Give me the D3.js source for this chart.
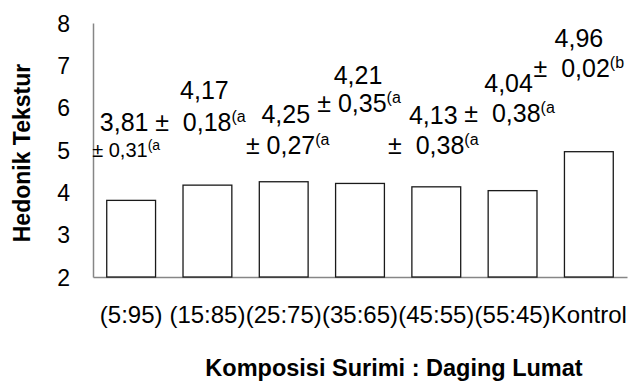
<!DOCTYPE html>
<html>
<head>
<meta charset="utf-8">
<script src="https://cdn.jsdelivr.net/npm/d3@7"></script>
<style>
	body { margin: 0; background: #fff; }
	svg text { font-family: "Liberation Sans", Arial, sans-serif; fill: #000; white-space: pre; }
</style>
</head>
<body>
<div id="chart"></div>
<script>
// chart values
const categories = ["(5:95)", "(15:85)", "(25:75)", "(35:65)", "(45:55)", "(55:45)", "Kontrol"];
const means = [3.81, 4.17, 4.25, 4.21, 4.13, 4.04, 4.96];
const meanLabels = ["3,81", "4,17", "4,25", "4,21", "4,13", "4,04", "4,96"];
const sdLabels = ["± 0,31", "±  0,18", "± 0,27", "± 0,35", "±  0,38", "±  0,38", "±  0,02"];
const letters = ["(a", "(a", "(a", "(a", "(a", "(a", "(b"];
const yTicks = [2, 3, 4, 5, 6, 7, 8];

// label placement (px, relative to bar centre / bar top), moved by hand like the original
const labelLayout = [
	{dx1: -7, dy1: -78, dx2: -5, dy2: -50, small: true},
	{dx1: -3, dy1: -95, dx2: -7, dy2: -63},
	{dx1: 2, dy1: -68, dx2: 4, dy2: -37},
	{dx1: -2, dy1: -108, dx2: -1, dy2: -80},
	{dx1: -3, dy1: -72, dx2: -3, dy2: -42},
	{dx1: -4, dy1: -107, dx2: -3, dy2: -77},
	{dx1: -10, dy1: -113, dx2: -10, dy2: -83}
];

const width = 628, height = 383;
const plotLeft = 93, plotRight = 627, plotTop = 23, plotBottom = 277;

const svg = d3.select("#chart").append("svg")
	.attr("width", width)
	.attr("height", height);

const x = d3.scaleBand().domain(categories).range([plotLeft, plotRight])
	.paddingInner(0.36).paddingOuter(0.18);
const y = d3.scaleLinear().domain([2, 8]).range([plotBottom, plotTop]);

// y axis
const yAxis = d3.axisLeft(y).tickValues(yTicks).tickSize(0).tickPadding(23).tickFormat(d3.format("d"));
const gy = svg.append("g")
	.attr("transform", "translate(" + plotLeft + ",0)")
	.call(yAxis);
gy.select(".domain").attr("stroke", "#868686").attr("stroke-width", 1.5);
gy.selectAll("text").style("font-size", "23px").attr("dy", "0.35em");

// x axis
const xAxis = d3.axisBottom(x).tickSize(0).tickPadding(29);
const gx = svg.append("g")
	.attr("transform", "translate(0," + plotBottom + ")")
	.call(xAxis);
gx.select(".domain").attr("stroke", "#868686").attr("stroke-width", 1.5);
gx.selectAll("text").style("font-size", "24px");

// bars
svg.selectAll("rect.bar")
	.data(means)
	.enter().append("rect")
	.attr("class", "bar")
	.attr("x", (d, i) => x(categories[i]))
	.attr("y", d => y(d))
	.attr("width", x.bandwidth())
	.attr("height", d => y(2) - y(d))
	.attr("fill", "#fff")
	.attr("stroke", "#1a1a1a")
	.attr("stroke-width", 1.3);

// data labels
const labels = svg.selectAll("g.lbl")
	.data(means)
	.enter().append("g")
	.attr("class", "lbl")
	.attr("transform", (d, i) => "translate(" + (x(categories[i]) + x.bandwidth() / 2) + "," + y(d) + ")");

labels.append("text")
	.attr("text-anchor", "middle")
	.attr("x", (d, i) => labelLayout[i].dx1)
	.attr("y", (d, i) => labelLayout[i].dy1)
	.attr("dy", "0.35em")
	.style("font-size", "25px")
	.text((d, i) => meanLabels[i]);

const line2 = labels.append("text")
	.attr("text-anchor", "middle")
	.attr("x", (d, i) => labelLayout[i].dx2)
	.attr("y", (d, i) => labelLayout[i].dy2)
	.attr("dy", "0.35em")
	.style("font-size", (d, i) => labelLayout[i].small ? "20px" : "25px");
line2.append("tspan").text((d, i) => sdLabels[i]);
line2.append("tspan")
	.attr("dy", (d, i) => labelLayout[i].small ? "-7" : "-9")
	.style("font-size", (d, i) => labelLayout[i].small ? "14px" : "16px")
	.text((d, i) => letters[i]);

// axis titles
svg.append("text")
	.attr("transform", "translate(30,153) rotate(-90)")
	.attr("text-anchor", "middle")
	.style("font-size", "23px")
	.style("font-weight", "bold")
	.text("Hedonik Tekstur");

svg.append("text")
	.attr("x", 394)
	.attr("y", 376)
	.attr("text-anchor", "middle")
	.style("font-size", "23.5px")
	.style("font-weight", "bold")
	.text("Komposisi Surimi : Daging Lumat");
</script>
</body>
</html>
